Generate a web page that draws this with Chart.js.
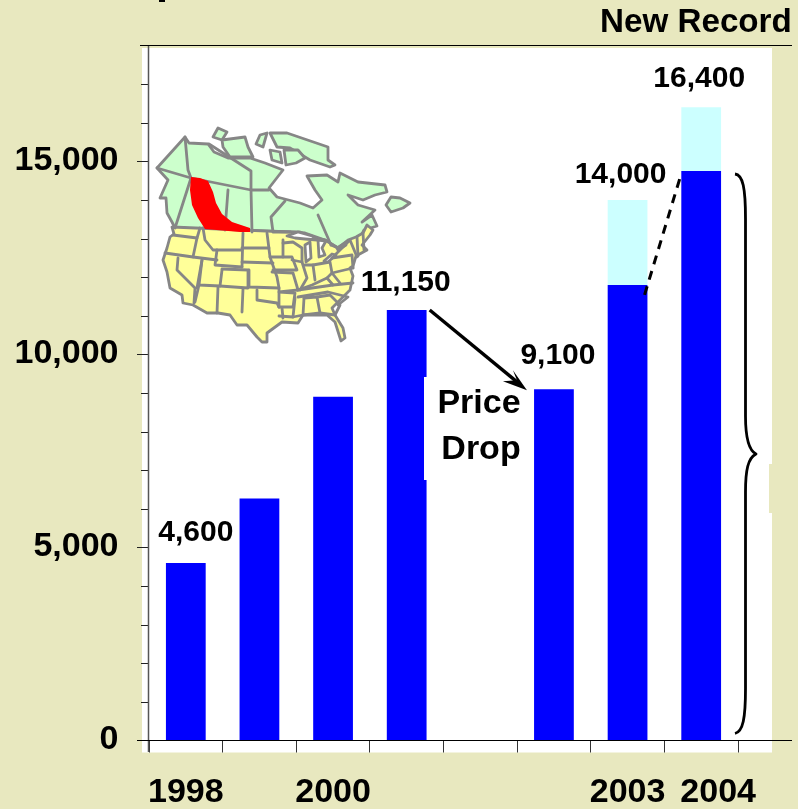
<!DOCTYPE html>
<html><head><meta charset="utf-8">
<style>html,body{margin:0;padding:0;background:#e8e8bf}canvas{display:block}</style>
<script src="https://cdn.jsdelivr.net/npm/chart.js@4"></script>
</head><body><canvas id="c" width="798" height="809"></canvas>
<script>
const categories = ['1998','','2000','','','','2003','2004'];
const firmValues = [4600,6270,8900,11150,null,9100,11800,14750];
const addedValues = [null,null,null,null,null,null,2200,1650];
const valueLabelTexts = ['4,600',null,null,'11,150',null,'9,100','14,000','16,400'];
const yTickLabels = {0:'0',5000:'5,000',10000:'10,000',15000:'15,000'};
const noteLines = ['Price','Drop'];
const headline = 'New Record';

/* illustration only: the inset map of North America, in picture coordinates */
const canadaMain = [[157,168],[185,137],[189,143],[208,144],[214,152],[228,158],[250,158],[265,163],[283,170],[269,188],[277,197],[300,203],[313,208],[322,200],[315,190],[307,176],[327,175],[338,182],[340,173],[358,182],[385,185],[387,192],[375,195],[363,200],[348,195],[358,205],[375,210],[362,222],[372,215],[377,226],[364,230],[360,238],[352,240],[338,248],[325,240],[305,233],[290,232],[175,228],[172,222],[167,213],[166,198],[160,198],[168,180]];
const arcticIslands = [[[213,137],[218,128],[227,132],[222,140]],[[222,140],[245,137],[248,147],[253,157],[230,157],[223,147]],[[260,135],[267,133],[263,147],[256,144]],[[270,133],[287,133],[328,147],[328,160],[335,165],[330,167],[310,160],[290,148],[277,147]],[[284,150],[298,150],[305,158],[296,163],[286,165]],[[270,150],[280,152],[282,163],[272,160]]];
const newfoundland = [[391,197],[400,198],[410,203],[403,208],[391,212],[386,205]];
const usaMain = [[172,227],[290,232],[300,232],[314,238],[325,240],[338,248],[348,240],[356,237],[363,233],[367,225],[373,230],[370,235],[362,245],[367,250],[356,256],[353,266],[350,268],[353,276],[350,290],[340,300],[332,308],[335,315],[343,328],[345,338],[341,341],[335,322],[327,315],[303,315],[298,323],[282,322],[267,333],[267,342],[262,342],[257,337],[247,325],[237,325],[230,315],[218,313],[207,313],[193,305],[183,303],[182,295],[170,288],[167,272],[163,260],[167,248],[170,237],[174,234]];
const greatLakes = [[[287,236],[298,232],[312,236],[317,240],[305,239],[295,238]],[[305,245],[310,242],[311,258],[306,262]],[[318,240],[326,241],[322,248],[325,255],[319,257]],[[324,261],[332,254],[336,255],[328,262]],[[337,248],[345,243],[346,245],[338,250]]];
const borderLines = [
[[173,235],[197,238]],[[200,228],[197,238],[193,257]],[[165,253],[193,257],[217,260]],
[[178,258],[177,270],[195,288],[194,303]],[[202,260],[197,288]],[[203,228],[205,240],[213,250],[242,250]],
[[243,233],[242,267]],[[217,250],[215,265],[242,267]],[[202,260],[199,285],[220,286],[222,270]],
[[222,269],[248,270],[248,288],[220,286]],[[218,287],[217,313]],[[199,285],[195,302]],[[243,289],[242,312]],
[[242,248],[269,248]],[[267,233],[270,257],[277,277],[279,288],[279,307]],[[242,262],[273,263]],
[[249,270],[249,287],[279,288]],[[257,290],[257,300],[277,303],[279,307]],[[270,257],[292,257],[297,270],[273,270]],
[[283,240],[283,257]],[[283,243],[293,242],[302,248],[302,262],[292,260]],[[272,272],[293,273],[298,290],[279,292],[295,293],[293,307],[279,307]],
[[282,308],[283,318]],[[279,316],[293,317],[295,298]],[[293,317],[303,315],[304,298]],[[304,298],[317,297],[320,313],[303,315]],
[[317,297],[330,295],[340,305],[335,315],[320,313]],[[298,290],[333,285],[353,283]],[[298,297],[328,292],[348,297],[338,305]],
[[298,290],[312,285],[327,278],[333,285]],[[302,262],[307,278],[300,290]],[[305,265],[313,265],[315,280]],
[[313,265],[330,262],[332,273],[327,278]],[[332,273],[353,268]],[[332,258],[352,255],[353,268]],[[332,258],[350,240],[357,257]],
[[332,273],[340,283]],[[357,237],[358,256]],[[363,233],[364,250]],
[[185,137],[188,170],[191,178]],[[157,168],[191,178],[251,190],[251,171],[209,144]],[[251,190],[269,190]],[[191,178],[175,228]],
[[228,190],[225,230]],[[251,190],[252,232]],[[285,201],[271,217],[273,232],[290,232]],[[318,215],[331,245]],[[331,245],[338,248]]
];
const provinceRed = [[191,177],[200,178],[208,181],[213,192],[216,203],[222,214],[232,222],[250,228],[250,232],[240,232],[205,229],[198,218],[192,205],[190,190]];

const ctxPoly = (c, pts, fill, stroke) => {
  c.beginPath(); pts.forEach((p,i)=> i?c.lineTo(p[0],p[1]):c.moveTo(p[0],p[1])); c.closePath();
  if(fill){c.fillStyle=fill;c.fill();}
  if(stroke){c.strokeStyle=stroke;c.stroke();}
};
const BG='#e8e8bf', FONT='"Liberation Sans", Arial, sans-serif';

const plate = { id:'plate',
  beforeDraw(ch){ const c=ch.ctx; c.save();
    c.fillStyle=BG; c.fillRect(0,0,798,809);
    c.fillStyle='#fff'; c.fillRect(142,48,630,704.5);
    c.fillStyle=BG; c.fillRect(769,464,3,49);
    c.fillStyle='#000'; c.fillRect(159,0,6,2);
    c.restore();
    /* shift the last axis label right of its bar, as in the picture */
    const last=ch.scales.x.getLabelItems().find(i=>i.label==='2004');
    if(last && !last._moved){ last.options.translation[0]+=17; last._moved=true; }
    ch.scales.y.getLabelItems().forEach(i=>{ if(!i._moved){ i.options.translation[1]-=1; i._moved=true; } });
  },
  beforeDatasetsDraw(ch){ const c=ch.ctx, y=ch.scales.y; c.save();
    c.strokeStyle='#222'; c.lineWidth=1;
    y.ticks.forEach(t=>{ const p=Math.round(y.getPixelForValue(t.value))+.5, L=(t.value%5000===0)?137:141;
      if(t.value===0||t.value===18000) return;
      c.beginPath(); c.moveTo(L,p); c.lineTo(148,p); c.stroke(); });
    c.restore();
  },
  afterDatasetsDraw(ch){ const c=ch.ctx, x=ch.scales.x, y=ch.scales.y; c.save();
    c.fillStyle='#fff'; c.fillRect(424,377,108,103);
    c.lineJoin='round'; c.lineCap='round'; c.lineWidth=2.8;
    const G='#868686';
    ctxPoly(c,canadaMain,'#ccffcc',G);
    arcticIslands.forEach(p=>ctxPoly(c,p,'#ccffcc',G));
    ctxPoly(c,newfoundland,'#ccffcc',G);
    ctxPoly(c,usaMain,'#ffff99',G);
    greatLakes.forEach(p=>ctxPoly(c,p,'#fff',G));
    borderLines.forEach(l=>{c.beginPath();l.forEach((p,i)=>i?c.lineTo(p[0],p[1]):c.moveTo(p[0],p[1]));c.strokeStyle=G;c.stroke();});
    ctxPoly(c,provinceRed,'#ff0000',null);
    c.lineCap='butt';
    c.strokeStyle='#555'; c.lineWidth=1.5; c.beginPath(); c.moveTo(148.5,46); c.lineTo(148.5,752); c.stroke();
    c.strokeStyle='#000'; c.lineWidth=1.2;
    c.beginPath(); c.moveTo(140,y.getPixelForValue(18000)); c.lineTo(792,y.getPixelForValue(18000)); c.stroke();
    c.beginPath(); c.moveTo(137,y.getPixelForValue(0)); c.lineTo(792,y.getPixelForValue(0)); c.stroke();
    c.fillStyle='#000'; c.textAlign='center'; c.textBaseline='alphabetic'; c.font='bold 30px '+FONT;
    const off={0:[10,-22],3:[-1,-19],5:[4,-25],6:[-7,-19],7:[-2,-20]};
    valueLabelTexts.forEach((t,i)=>{ if(!t) return;
      const top=(firmValues[i]||0)+(i>=6?addedValues[i]:0);
      const yy = i===6? y.getPixelForValue(firmValues[7])+12 : y.getPixelForValue(top)+off[i][1];
      c.fillText(t,x.getPixelForValue(i)+off[i][0],yy); });
    c.font='bold 34px '+FONT;
    c.fillText(noteLines[0],479,413); c.fillText(noteLines[1],481,459);
    c.save(); c.beginPath(); c.rect(590,0,202.5,44); c.clip();
    c.textAlign='left'; c.font='bold 33.2px '+FONT; c.fillText(headline,600,32); c.restore();
    const ax=x.getPixelForValue(3)+23, ay=y.getPixelForValue(firmValues[3]), bx=x.getPixelForValue(5)-27, by=y.getPixelForValue(firmValues[5])+1;
    c.strokeStyle='#000'; c.lineWidth=3.4; c.beginPath(); c.moveTo(ax,ay); c.lineTo(bx-6,by-5); c.stroke();
    ctxPoly(c,[[bx,by],[bx-14,by-20],[bx-10,by-10],[bx-24,by-9]],'#000',null);
    c.lineWidth=3; c.setLineDash([9,7]); c.beginPath();
    c.moveTo(x.getPixelForValue(6)+17,y.getPixelForValue(firmValues[6])+10);
    c.lineTo(x.getPixelForValue(7)-20,y.getPixelForValue(firmValues[7])+3); c.stroke(); c.setLineDash([]);
    const t=y.getPixelForValue(firmValues[7])+3, b=y.getPixelForValue(0)-7, m=454;
    c.lineWidth=2.8; c.beginPath(); c.moveTo(735,t);
    c.bezierCurveTo(743,t+1,745.5,t+14,745.5,t+45); c.lineTo(745.5,m-38);
    c.bezierCurveTo(745.5,m-18,748,m-4,756,m); c.bezierCurveTo(748,m+4,745.5,m+16,745.5,m+38);
    c.lineTo(745.5,b-45); c.bezierCurveTo(745.5,b-15,743,b-2,735,b); c.stroke();
    c.restore();
  }
};

new Chart(document.getElementById('c'),{
  type:'bar',
  data:{labels:categories,datasets:[
    {label:'firm',data:firmValues,backgroundColor:'#0000ff',stack:'s',borderWidth:0},
    {label:'added',data:addedValues,backgroundColor:'#ccffff',stack:'s',borderWidth:0}
  ]},
  plugins:[plate],
  options:{
    responsive:false,animation:false,devicePixelRatio:1,
    layout:{padding:{top:45.5,right:60,left:0,bottom:0}},
    datasets:{bar:{barPercentage:.54,categoryPercentage:1}},
    plugins:{legend:{display:false},tooltip:{enabled:false},title:{display:false}},
    scales:{
      x:{stacked:true,
        afterFit(s){s.height=68.5;s.paddingLeft=0;s.paddingRight=0;},
        border:{display:false},
        grid:{display:true,drawOnChartArea:false,drawTicks:true,tickLength:12,tickColor:'#333',offset:true},
        ticks:{autoSkip:false,maxRotation:0,minRotation:0,padding:20,color:'#000',font:{family:'Liberation Sans',size:34,weight:'bold'}}
      },
      y:{stacked:true,min:0,max:18000,
        afterFit(s){s.width=149;s.paddingTop=0;s.paddingBottom=0;},
        border:{display:false},
        grid:{display:false,drawTicks:false},
        ticks:{stepSize:1000,autoSkip:false,padding:30.5,color:'#000',font:{family:'Liberation Sans',size:34,weight:'bold'},
          callback:v=>yTickLabels[v]||''}
      }
    }
  }
});
</script></body></html>
